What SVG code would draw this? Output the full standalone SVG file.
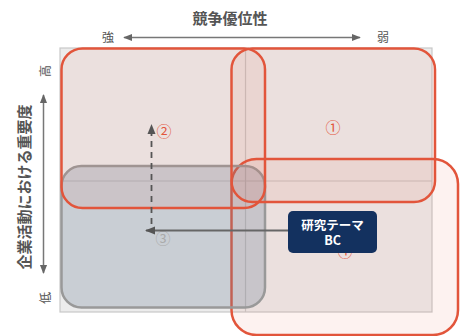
<svg xmlns="http://www.w3.org/2000/svg" width="461" height="336" viewBox="0 0 461 336">
<defs>
<style>
.t{font-family:"Noto Sans CJK JP","Noto Sans",sans-serif;}
.ax{fill:#555;font-size:12px;}
.title{fill:#555;font-size:15px;font-weight:bold;}
.red{fill:rgba(228,90,70,0.08);stroke:#e2553b;stroke-width:2.5;}
.gray{fill:rgba(110,130,150,0.28);stroke:#999;stroke-width:2.5;}
.num{font-size:15px;text-anchor:middle;dominant-baseline:central;}
.line{stroke:#777;stroke-width:1.5;fill:none;}
</style>
<marker id="ah" viewBox="0 0 10 10" refX="9" refY="5" markerWidth="9" markerHeight="9" orient="auto-start-reverse" markerUnits="userSpaceOnUse">
<path d="M0,1 L10,5 L0,9 Z" fill="#666"/>
</marker>
<marker id="ah2" viewBox="0 0 10 10" refX="9" refY="5" markerWidth="10" markerHeight="10" orient="auto" markerUnits="userSpaceOnUse">
<path d="M0,1 L10,5 L0,9 Z" fill="#555"/>
</marker>
</defs>
<rect width="461" height="336" fill="#fff"/>
<g id="axes">
<text class="t title" x="230" y="24" text-anchor="middle">競争優位性</text>
<text class="t ax" x="108" y="42" text-anchor="middle">強</text>
<text class="t ax" x="383" y="42" text-anchor="middle">弱</text>
<line class="line" x1="124" y1="37.5" x2="360" y2="37.5" marker-start="url(#ah)" marker-end="url(#ah)"/>
<text class="t ax" transform="translate(50,71) rotate(-90)" text-anchor="middle">高</text>
<text class="t ax" transform="translate(50,298) rotate(-90)" text-anchor="middle">低</text>
<line class="line" x1="43.5" y1="95" x2="43.5" y2="273" marker-start="url(#ah)" marker-end="url(#ah)"/>
<text class="t title" transform="translate(30,187) rotate(-90)" text-anchor="middle">企業活動における重要度</text>
</g>
<g id="grid">
<rect x="60" y="48" width="372" height="264" fill="#ececec" stroke="#c8c8c8" stroke-width="1.2"/>
<line x1="245.5" y1="48" x2="245.5" y2="312" stroke="#c8c8c8" stroke-width="1.2"/>
<line x1="60" y1="181" x2="432" y2="181" stroke="#c8c8c8" stroke-width="1.2"/>
</g>
<g id="area4">
<rect class="red" x="231.5" y="159" width="226.5" height="176" rx="25"/>
</g>
<g id="area3">
<rect class="gray" x="61.5" y="166" width="203.5" height="141.5" rx="20"/>
</g>
<g id="area2">
<rect class="red" x="61.5" y="48.5" width="203.5" height="159.5" rx="21"/>
</g>
<g id="area1">
<rect class="red" x="231.5" y="48.5" width="203.5" height="153.5" rx="21"/>
</g>
<g id="labels">
<text class="t num" x="333" y="126" fill="#e2553b">①</text>
<text class="t num" x="164" y="130" fill="#e2553b">②</text>
<text class="t num" x="163" y="237" fill="#aaa">③</text>
<text class="t num" x="345" y="250" fill="#e2553b">④</text>
</g>
<g id="connectors">
<line x1="151.5" y1="224" x2="151.5" y2="125" stroke="#555" stroke-width="1.8" stroke-dasharray="6,5" marker-end="url(#ah2)"/>
<line x1="289" y1="230.5" x2="146" y2="230.5" stroke="#666" stroke-width="2" marker-end="url(#ah2)"/>
</g>
<g id="theme">
<rect x="288" y="211" width="89" height="42" rx="5" fill="#13315f"/>
<text class="t" x="332.5" y="230" fill="#fff" font-size="12.5" font-weight="bold" text-anchor="middle">研究テーマ</text>
<text class="t" x="332.5" y="245" fill="#fff" font-size="12.5" font-weight="bold" text-anchor="middle">BC</text>
</g>
</svg>
